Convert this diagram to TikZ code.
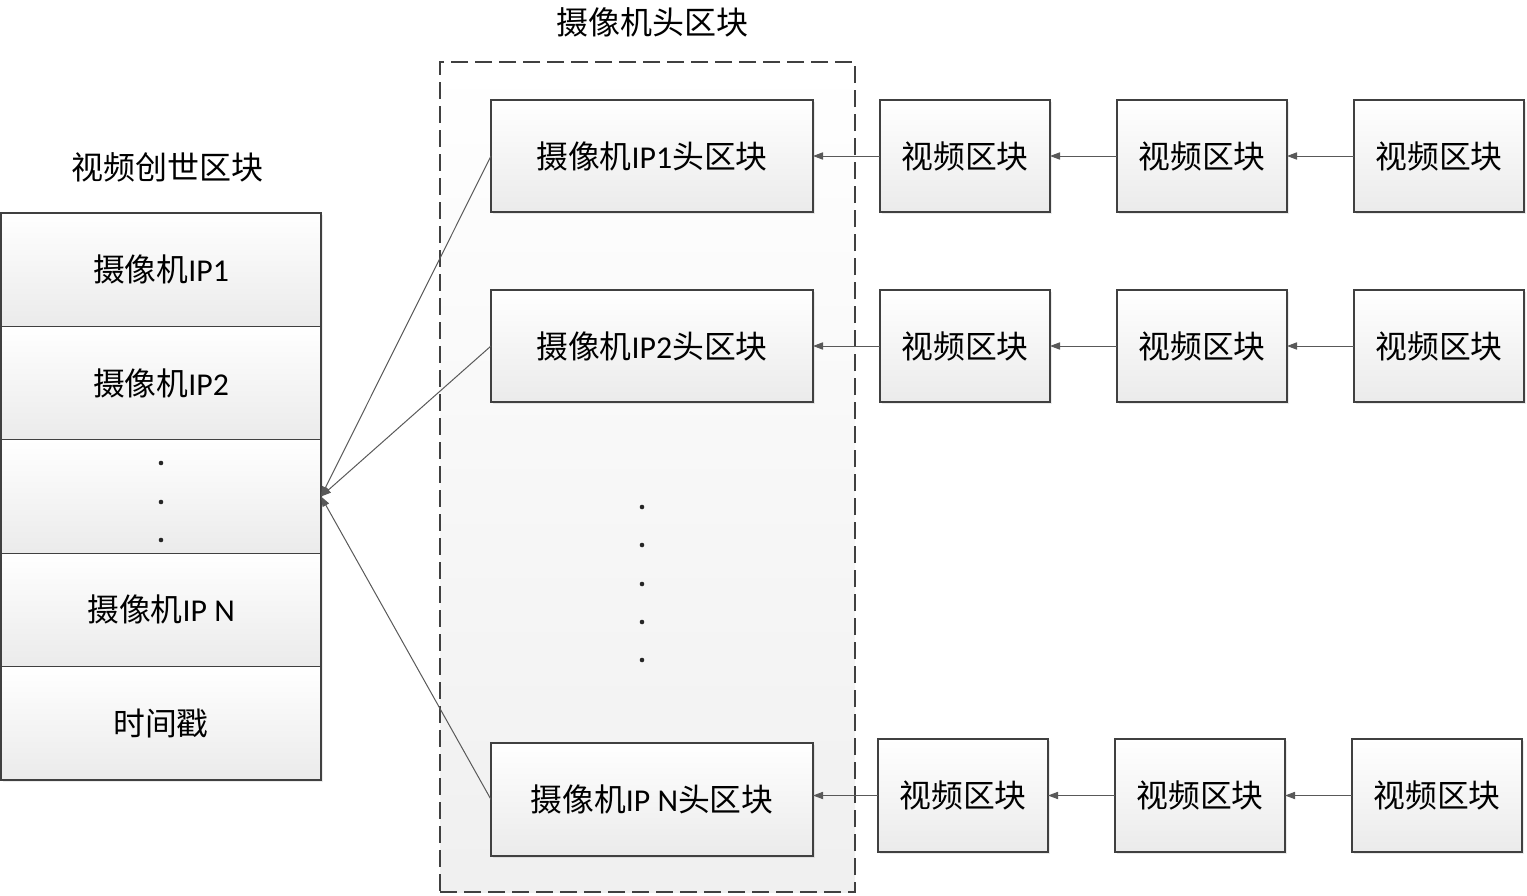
\documentclass[tikz,border=0pt]{standalone}
\usepackage{fontspec}
\setmainfont{Carlito}
\newfontfamily\cjk{Noto Sans CJK SC}
\usetikzlibrary{shadows,arrows.meta}
\begin{document}
\begin{tikzpicture}[x=0.5pt,y=-0.5pt,
  box/.style={draw=black!75, line width=0.6pt, top color=white, bottom color=black!8,
    drop shadow={shadow xshift=1.2pt,shadow yshift=-1.2pt,opacity=0.16},
    inner sep=0pt, outer sep=0pt, anchor=north west,
    font=\fontsize{15.9}{18}\selectfont},
  gbox/.style={box, minimum width=160pt, minimum height=56.7pt},
  hbox/.style={box, minimum width=161pt, minimum height=56pt},
  vbox/.style={box, minimum width=85pt, minimum height=56pt},
  link/.style={draw=black!65, line width=0.5pt, -{Triangle[length=5pt,width=3.6pt]}},
  lbl/.style={font=\fontsize{16}{18}\selectfont},
  dot/.style={fill=black!85}]
\useasboundingbox (0,0) rectangle (1527,895);

% container
\node[draw=black!75, line width=0.6pt, dash pattern=on 8.5pt off 3.5pt,
  top color=white, bottom color=black!6, inner sep=0pt, outer sep=0pt,
  minimum width=207.5pt, minimum height=415pt, anchor=north west] (cont) at (440,62) {};
\node[lbl] (ctitle) at (652,22) {\cjk 摄像机头区块};

% genesis block
\node[lbl] (gtitle) at (167,167) {\cjk 视频创世区块};
\node[gbox] (g1) at (1,213) {{\cjk 摄像机}IP1};
\node[gbox] (g2) at (1,326.4) {{\cjk 摄像机}IP2};
\node[gbox] (g3) at (1,439.8) {};
\node[gbox] (g4) at (1,553.2) {{\cjk 摄像机}IP N};
\node[gbox] (g5) at (1,666.6) {\cjk 时间戳};
\foreach \y in {463,502,540} \fill[dot] (161,\y) circle (2.3);

% header blocks
\node[hbox] (h1) at (491,100) {{\cjk 摄像机}IP1{\cjk 头区块}};
\node[hbox] (h2) at (491,290) {{\cjk 摄像机}IP2{\cjk 头区块}};
\node[hbox, minimum height=56.5pt] (hN) at (491,743) {{\cjk 摄像机}IP N{\cjk 头区块}};
\foreach \y in {507,545,584,622,660} \fill[dot] (642,\y) circle (2.3);

% video blocks
\node[vbox] (v11) at (880,100) {\cjk 视频区块};
\node[vbox] (v12) at (1117,100) {\cjk 视频区块};
\node[vbox] (v13) at (1354,100) {\cjk 视频区块};
\node[vbox] (v21) at (880,290) {\cjk 视频区块};
\node[vbox] (v22) at (1117,290) {\cjk 视频区块};
\node[vbox] (v23) at (1354,290) {\cjk 视频区块};
\node[vbox, minimum height=56.5pt] (v31) at (878,739) {\cjk 视频区块};
\node[vbox, minimum height=56.5pt] (v32) at (1115,739) {\cjk 视频区块};
\node[vbox, minimum height=56.5pt] (v33) at (1352,739) {\cjk 视频区块};

% chains
\draw[link] (v11.west) -- (h1.east);
\draw[link] (v12.west) -- (v11.east);
\draw[link] (v13.west) -- (v12.east);
\draw[link] (v21.west) -- (h2.east);
\draw[link] (v22.west) -- (v21.east);
\draw[link] (v23.west) -- (v22.east);
\draw[link] (v31.west) -- (hN.east |- v31.west);
\draw[link] (v32.west) -- (v31.east);
\draw[link] (v33.west) -- (v32.east);

% to genesis
\draw[link] (h1.west) -- (g3.east);
\draw[link] (h2.west) -- (g3.east);
\draw[link] (hN.west) -- (g3.east);
\end{tikzpicture}
\end{document}
